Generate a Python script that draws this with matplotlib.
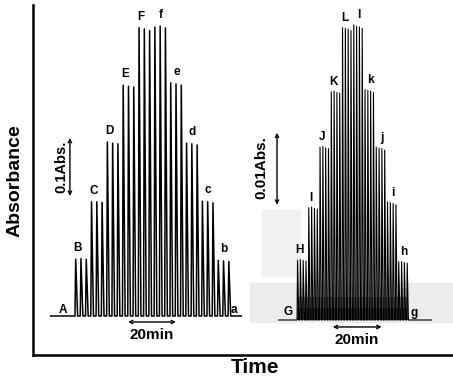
import numpy as np
import matplotlib
matplotlib.use("Agg")
import matplotlib.pyplot as plt
from matplotlib.patches import Rectangle

plt.rcParams['font.family'] = ['Liberation Sans', 'DejaVu Sans']

# left trace: 0.1 Abs scale, peak heights (Abs) per group, 3 injections each
left_labels = ["B", "C", "D", "E", "F", "f", "e", "d", "c", "b"]
left_heights = [
    [0.098, 0.099, 0.098],
    [0.197, 0.197, 0.196],
    [0.300, 0.298, 0.297],
    [0.398, 0.396, 0.395],
    [0.497, 0.495, 0.492],
    [0.498, 0.500, 0.497],
    [0.402, 0.400, 0.398],
    [0.298, 0.297, 0.295],
    [0.198, 0.197, 0.195],
    [0.096, 0.095, 0.094],
]
left_start = 10.4      # min, first injection
left_interval = 2.2    # min between injections

# right trace: 0.01 Abs scale, 4 injections each
right_labels = ["H", "I", "J", "K", "L", "l", "k", "j", "i", "h"]
right_heights = [
    [0.0083, 0.0084, 0.0083, 0.0082],
    [0.0156, 0.0157, 0.0155, 0.0154],
    [0.0240, 0.0241, 0.0239, 0.0238],
    [0.0317, 0.0318, 0.0316, 0.0315],
    [0.0406, 0.0405, 0.0404, 0.0402],
    [0.0410, 0.0408, 0.0407, 0.0405],
    [0.0320, 0.0319, 0.0318, 0.0316],
    [0.0240, 0.0239, 0.0238, 0.0236],
    [0.0164, 0.0163, 0.0162, 0.0160],
    [0.0081, 0.0081, 0.0080, 0.0079],
]
right_start = 7.8
right_interval = 1.15


def trace(heights, start, interval, t_end, rise, fall):
    t = [0.0]
    y = [0.0]
    k = 0
    for grp in heights:
        for h in grp:
            t0 = start + k * interval
            t += [t0, t0 + rise, t0 + fall]
            y += [0.0, h, 0.0]
            k += 1
    t.append(t_end)
    y.append(0.0)
    return np.array(t), np.array(y)


arrow_style = dict(arrowstyle="<->", lw=1.0, color="black", shrinkA=0, shrinkB=0, mutation_scale=6)

fig = plt.figure(figsize=(4.53, 3.85), dpi=100)

# outer frame
frame = fig.add_axes([0.0728, 0.0779, 0.93, 0.909])
frame.set_xticks([])
frame.set_yticks([])
frame.spines["top"].set_visible(False)
frame.spines["right"].set_visible(False)
frame.spines["left"].set_linewidth(1.8)
frame.spines["bottom"].set_linewidth(1.8)
frame.patch.set_alpha(0)

fig.text(0.033, 0.532, "Absorbance", rotation=90, ha="center", va="center",
         fontsize=14, fontweight="bold")
fig.text(0.563, 0.045, "Time", ha="center", va="center", fontsize=15, fontweight="bold")

# left trace
axl = fig.add_axes([0.1104, 0.1039, 0.4238, 0.8587])
axl.set_xlim(0, 80)
axl.set_ylim(-0.05, 0.52)
axl.axis("off")
t, y = trace(left_heights, left_start, left_interval, 80, 0.3, 1.1)
axl.plot(t, y, color="black", lw=1.1)
for g, (lab, grp) in enumerate(zip(left_labels, left_heights)):
    first = left_start + g * len(grp) * left_interval
    off = 0.5 if g < 5 else 1.2
    axl.text(first + off * left_interval, max(grp) + 0.019, lab, ha="center", va="center",
             fontsize=8.5, fontweight="bold")
axl.text(5.4, 0.010, "A", ha="center", va="center", fontsize=8.5, fontweight="bold")
axl.text(76.7, 0.010, "a", ha="center", va="center", fontsize=8.5, fontweight="bold")
axl.annotate("", xy=(8.3, 0.207), xytext=(8.3, 0.307), arrowprops=arrow_style,
             annotation_clip=False)
axl.text(4.6, 0.257, "0.1Abs.", rotation=90, ha="center", va="center", fontsize=10.5,
         fontweight="bold")
axl.annotate("", xy=(32.5, -0.0103), xytext=(52.5, -0.0103), arrowprops=arrow_style,
             annotation_clip=False)
axl.text(42.5, -0.033, "20min", ha="center", va="center", fontsize=11, fontweight="bold")

# right trace
axr = fig.add_axes([278 / 453, 1 - 348.8 / 385, 154 / 453, 334.8 / 385])
axr.set_xlim(0, 63)
axr.set_ylim(-0.004, 0.0425)
axr.axis("off")
# scan shading behind the right trace
axr.add_patch(Rectangle((-6.5, 0.0061), 15.5, 0.0092, color="#f0f0f0", zorder=0, clip_on=False))
axr.add_patch(Rectangle((-11.4, -0.0003), 82.8, 0.0054, color="#ececec", zorder=0, clip_on=False))
n_right = sum(len(g) for g in right_heights)
axr.add_patch(Rectangle((right_start, 0), (n_right - 1) * right_interval + 0.6, 0.0032,
                        color="#9a9a9a", zorder=1, lw=0))
axr.add_patch(Rectangle((right_start, 0), (n_right - 1) * right_interval + 0.6, 0.0016,
                        color="#4a4a4a", zorder=1, lw=0))
t, y = trace(right_heights, right_start, right_interval, 63, 0.2, 0.7)
axr.plot(t, y, color="black", lw=0.8, zorder=2)
for g, (lab, grp) in enumerate(zip(right_labels, right_heights)):
    first = right_start + g * len(grp) * right_interval
    off = 1.0 if g < 5 else 2.0
    axr.text(first + off * right_interval, max(grp) + 0.0013, lab, ha="center", va="center",
             fontsize=8.5, fontweight="bold")
axr.text(4.1, 0.0011, "G", ha="center", va="center", fontsize=8.5, fontweight="bold")
axr.text(55.5, 0.0010, "g", ha="center", va="center", fontsize=8.5, fontweight="bold")
axr.annotate("", xy=(-0.4, 0.016), xytext=(-0.4, 0.026), arrowprops=arrow_style,
             annotation_clip=False)
axr.text(-7.0, 0.0212, "0.01Abs.", rotation=90, ha="center", va="center", fontsize=11,
         fontweight="bold")
axr.annotate("", xy=(22.4, -0.00097), xytext=(42.4, -0.00097), arrowprops=arrow_style,
             annotation_clip=False)
axr.text(32.2, -0.0028, "20min", ha="center", va="center", fontsize=11, fontweight="bold")

fig.savefig("out.png", dpi=100)
